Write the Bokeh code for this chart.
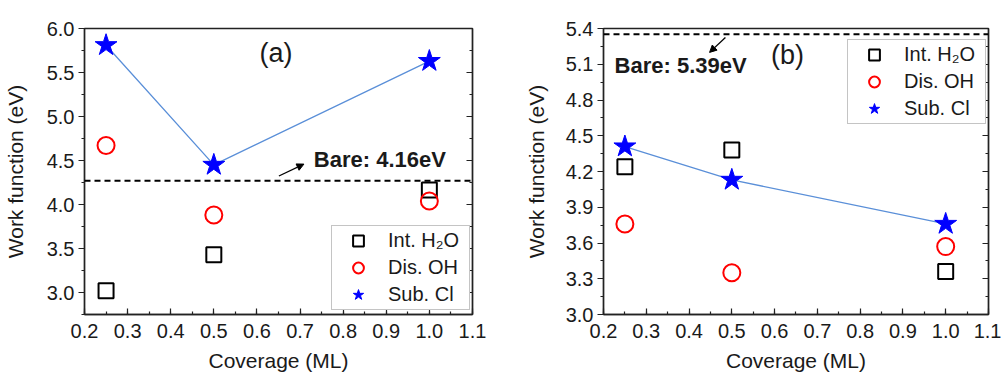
from bokeh.plotting import figure
from bokeh.models import (Range1d, LinearAxis, SingleIntervalTicker, Span, Arrow,
                          NormalHead, Label, Legend, LegendItem, PrintfTickFormatter,
                          CustomJSTickFormatter)
from bokeh.layouts import row
from bokeh.embed import file_html
from bokeh.resources import INLINE

coverage = [0.25, 0.5, 1.0]

# Panel (a)
a_h2o = [3.02, 3.43, 4.165]
a_oh = [4.67, 3.88, 4.04]
a_cl = [5.81, 4.45, 5.63]
a_bare_line = 4.27
a_bare_text = "Bare: 4.16eV"

# Panel (b)
b_h2o = [4.24, 4.38, 3.36]
b_oh = [3.76, 3.35, 3.57]
b_cl = [4.41, 4.13, 3.76]
b_bare_line = 5.352
b_bare_text = "Bare: 5.39eV"

labels = ["Int. H\u2082O", "Dis. OH", "Sub. Cl"]
x_title = "Coverage (ML)"
y_title = "Work function (eV)"

FONT = "Liberation Sans"
TXT = "#1a1a1a"
AX = "#222222"


def make_panel(width, height, yr, yint, borders, h2o, oh, cl, bare_y, bare_txt,
               bare_pos, arrow_from, arrow_to, tag, tag_pos, legend_loc, ylabel_standoff):
    p = figure(width=width, height=height, output_backend="svg", toolbar_location=None,
               x_range=Range1d(0.2, 1.1001), y_range=Range1d(*yr),
               min_border_left=borders[0], min_border_right=borders[1],
               min_border_top=borders[2], min_border_bottom=borders[3])
    p.background_fill_color = "white"
    p.border_fill_color = "white"
    p.outline_line_color = AX
    p.outline_line_width = 1.4
    p.grid.visible = False

    p.xaxis.ticker = SingleIntervalTicker(interval=0.1, num_minor_ticks=2)
    p.yaxis.ticker = SingleIntervalTicker(interval=yint, num_minor_ticks=2)
    p.xaxis.formatter = PrintfTickFormatter(format="%.1f")
    p.yaxis.formatter = PrintfTickFormatter(format="%.1f")
    for ax in (p.xaxis[0], p.yaxis[0]):
        ax.axis_line_color = AX
        ax.axis_line_width = 1.4
        ax.major_tick_line_color = AX
        ax.minor_tick_line_color = AX
        ax.major_tick_line_width = 1.2
        ax.minor_tick_line_width = 1.2
        ax.major_label_text_font = FONT
        ax.major_label_text_font_size = "20px"
        ax.major_label_text_color = TXT
        ax.axis_label_text_font = FONT
        ax.axis_label_text_font_size = "21px"
        ax.axis_label_text_font_style = "normal"
        ax.axis_label_text_color = TXT
    # left ticks outward, bottom ticks inward
    p.yaxis.major_tick_in = 0
    p.yaxis.major_tick_out = 6
    p.yaxis.minor_tick_in = 0
    p.yaxis.minor_tick_out = 3
    p.xaxis.major_tick_in = 6
    p.xaxis.major_tick_out = 0
    p.xaxis.minor_tick_in = 3
    p.xaxis.minor_tick_out = 0
    p.xaxis.axis_label = x_title
    p.yaxis.axis_label = y_title
    p.xaxis.axis_label_standoff = 8
    p.yaxis.axis_label_standoff = ylabel_standoff
    p.xaxis.major_label_standoff = 9
    p.yaxis.major_label_standoff = 4

    rax = LinearAxis(ticker=SingleIntervalTicker(interval=yint, num_minor_ticks=2),
                     formatter=CustomJSTickFormatter(code="return ''"),
                     major_label_standoff=0,
                     major_tick_in=6, major_tick_out=0, minor_tick_in=3, minor_tick_out=0,
                     axis_line_color=AX, axis_line_width=1.4,
                     major_tick_line_color=AX, minor_tick_line_color=AX,
                     major_tick_line_width=1.2, minor_tick_line_width=1.2)
    p.add_layout(rax, "right")

    p.add_layout(Span(location=bare_y, dimension="width", line_color="black",
                      line_dash="6 4", line_width=2))

    p.line(coverage, cl, line_color="#5a8fd8", line_width=1.3)
    r1 = p.scatter(coverage, h2o, marker="square", size=15, fill_color=None,
                   line_color="black", line_width=2)
    r2 = p.scatter(coverage, oh, marker="circle", size=17, fill_color=None,
                   line_color="#ff0000", line_width=2)
    r3 = p.scatter(coverage, cl, marker="star", size=23, fill_color="#0000ff",
                   line_color="#0000ff", line_width=1)

    p.add_layout(Label(x=bare_pos[0], y=bare_pos[1], text=bare_txt, text_font=FONT,
                       text_font_size="22px", text_font_style="bold", text_color=TXT,
                       text_baseline="middle", text_align="left"))
    p.add_layout(Label(x=tag_pos[0], y=tag_pos[1], text=tag, text_font=FONT,
                       text_font_size="27px", text_color=TXT,
                       text_baseline="middle", text_align="center"))
    p.add_layout(Arrow(x_start=arrow_from[0], y_start=arrow_from[1],
                       x_end=arrow_to[0], y_end=arrow_to[1], line_width=1.3,
                       line_color="black",
                       end=NormalHead(size=7, fill_color="black", line_color="black")))

    legend = Legend(items=[LegendItem(label=labels[0], renderers=[r1]),
                           LegendItem(label=labels[1], renderers=[r2]),
                           LegendItem(label=labels[2], renderers=[r3])],
                    location=legend_loc, label_text_font=FONT, label_text_font_size="20px",
                    label_text_color=TXT, glyph_width=50, glyph_height=27, label_height=27,
                    label_width=80, label_standoff=5, spacing=0, padding=1, margin=0,
                    border_line_color="#8a8a8a", border_line_width=1.2,
                    background_fill_color="white", background_fill_alpha=1.0)
    p.add_layout(legend)
    return p


pa = make_panel(500, 379, (2.75, 6.0), 0.5, (83, 28, 25, 65),
                a_h2o, a_oh, a_cl, a_bare_line, a_bare_text,
                (0.732, 4.515), (0.651, 4.324), (0.709, 4.459),
                "(a)", (0.644, 5.72), (247, 4), 17)

pb = make_panel(501, 379, (3.0, 5.4005), 0.3, (103, 13, 28, 64),
                b_h2o, b_oh, b_cl, b_bare_line, b_bare_text,
                (0.226, 5.09), (0.485, 5.325), (0.448, 5.2),
                "(b)", (0.63, 5.174), (244, 190), 15)

layout = row(pa, pb)
open("out.html", "w").write(file_html(layout, INLINE))
